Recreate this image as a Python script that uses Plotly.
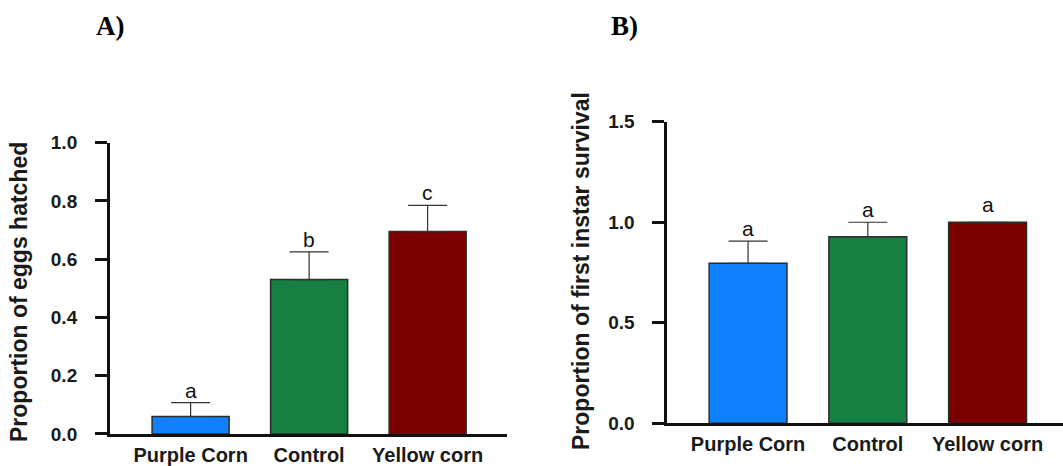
import plotly.graph_objects as go

# Treatments and measured proportions (mean and upper standard error)
categories = ["Purple Corn", "Control", "Yellow corn"]
bar_colors = ["#1080FF", "#158042", "#7B0000"]

hatched_mean = [0.06, 0.53, 0.695]
hatched_err = [0.048, 0.095, 0.09]
hatched_letters = ["a", "b", "c"]

survival_mean = [0.796, 0.928, 1.0]
survival_err = [0.11, 0.072, None]
survival_letters = ["a", "a", "a"]

SANS = "Liberation Sans, Arial, sans-serif"
SERIF = "Liberation Serif, Times New Roman, serif"
INK = "#1a1a1a"

fig = go.Figure()


def add_panel(xref, yref, means, errs, letters):
    fig.add_trace(go.Bar(
        x=categories, y=means,
        xaxis=xref, yaxis=yref,
        width=0.65,
        marker=dict(color=bar_colors, line=dict(color="#2b2b2b", width=1.5)),
        error_y=dict(type="data", symmetric=False, array=errs,
                     arrayminus=[0] * len(means),
                     color="#333333", thickness=1.2, width=19.5),
        showlegend=False,
        hoverinfo="skip",
    ))
    for cat, m, e, lab in zip(categories, means, errs, letters):
        top = m + (e if e else 0)
        fig.add_annotation(
            x=cat, y=top, xref=xref, yref=yref,
            text=lab, showarrow=False, yanchor="bottom",
            yshift=-1 if e else 4,
            font=dict(family=SANS, size=21, color="#111111"),
        )


add_panel("x", "y", hatched_mean, hatched_err, hatched_letters)
add_panel("x2", "y2", survival_mean, survival_err, survival_letters)

axis_line = dict(showline=True, linecolor="#111111", linewidth=3,
                 showgrid=False, zeroline=False, automargin=False)
cat_font = dict(family=SANS, size=20, color=INK, weight="bold")
num_font = dict(family=SANS, size=19, color=INK, weight="bold")
ytick_style = dict(ticks="outside", ticklen=12, tickwidth=3, tickcolor="#111111",
                   ticklabelstandoff=14, tickformat=".1f", tickfont=num_font)

fig.update_layout(
    width=1063, height=466,
    margin=dict(l=0, r=0, t=0, b=0, autoexpand=False),
    paper_bgcolor="white", plot_bgcolor="white",
    xaxis=dict(domain=[0.1035, 0.477], range=[-0.68, 2.67], anchor="y",
               ticks="", ticklabelstandoff=1, tickfont=cat_font, **axis_line),
    yaxis=dict(domain=[0.0687, 0.6938], range=[0, 1.0], anchor="x",
               tickvals=[0, 0.2, 0.4, 0.6, 0.8, 1.0], **ytick_style, **axis_line),
    xaxis2=dict(domain=[0.6278, 1.0], range=[-0.674, 2.63], anchor="y2",
                ticks="", ticklabelstandoff=1, tickfont=cat_font, **axis_line),
    yaxis2=dict(domain=[0.0916, 0.7388], range=[0, 1.5], anchor="x2",
                tickvals=[0, 0.5, 1.0, 1.5], **ytick_style, **axis_line),
)

# Axis titles, placed in paper coordinates
title_font = dict(family=SANS, size=23, color=INK, weight="bold")
fig.add_annotation(xref="paper", yref="paper", x=19 / 1063, y=1 - 292 / 466,
                   text="Proportion of eggs hatched", textangle=-90,
                   showarrow=False, xanchor="center", yanchor="middle",
                   font=title_font)
fig.add_annotation(xref="paper", yref="paper", x=581 / 1063, y=1 - 271 / 466,
                   text="Proportion of first instar survival", textangle=-90,
                   showarrow=False, xanchor="center", yanchor="middle",
                   font=title_font)

# Panel letters
letter_font = dict(family=SERIF, size=27, color="#000000", weight="bold")
fig.add_annotation(xref="paper", yref="paper", x=110 / 1063, y=1 - 26 / 466,
                   text="A)", showarrow=False, xanchor="center", yanchor="middle",
                   font=letter_font)
fig.add_annotation(xref="paper", yref="paper", x=624 / 1063, y=1 - 26 / 466,
                   text="B)", showarrow=False, xanchor="center", yanchor="middle",
                   font=letter_font)

fig.write_html("out.html")
